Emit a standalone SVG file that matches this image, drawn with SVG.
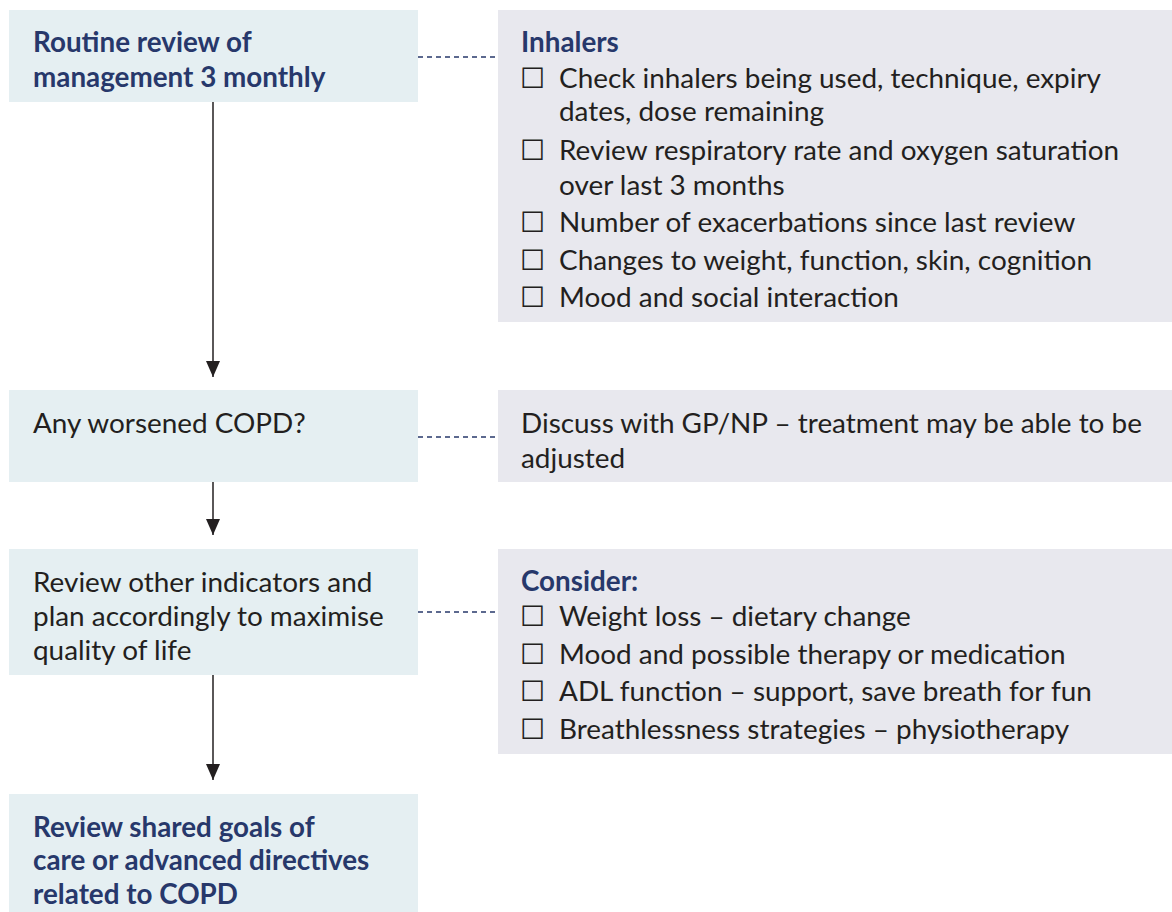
<svg xmlns="http://www.w3.org/2000/svg" width="1172" height="912" viewBox="0 0 1172 912">
<defs>
<style>
.lbox{fill:#e5eff2}
.rbox{fill:#e8e8ee}
.t{font-family:Lato,"Liberation Sans",sans-serif;font-size:27.9px;fill:#231f20}
.h{font-family:Lato,"Liberation Sans",sans-serif;font-size:27.8px;font-weight:bold;fill:#27386b}
.cb{font-family:"DejaVu Sans",sans-serif;font-size:28px;fill:#231f20}
.arrow{stroke:#231f20;stroke-width:1.5;fill:none;marker-end:url(#ah)}
.dash{stroke:#27386b;stroke-width:1.5;stroke-dasharray:5 4;fill:none}
</style>
<marker id="ah" viewBox="0 0 16 14" refX="16" refY="7" markerWidth="16" markerHeight="14" markerUnits="userSpaceOnUse" orient="auto">
<path d="M0,0 L16,7 L0,14 z" fill="#231f20"/>
</marker>
</defs>
<rect width="1172" height="912" fill="#ffffff"/>
<g id="connectors">
<line class="arrow" x1="213" y1="102" x2="213" y2="377"/>
<line class="arrow" x1="213" y1="482" x2="213" y2="535"/>
<line class="arrow" x1="213" y1="675" x2="213" y2="780"/>
<line class="dash" x1="418" y1="57" x2="498" y2="57"/>
<line class="dash" x1="418" y1="437" x2="498" y2="437"/>
<line class="dash" x1="418" y1="612" x2="498" y2="612"/>
</g>
<g id="n1">
<rect class="lbox" x="9" y="10" width="409" height="92"/>
<text class="h" x="33" y="52">Routine review of</text>
<text class="h" x="33" y="87">management 3 monthly</text>
</g>
<g id="n1r">
<rect class="rbox" x="498" y="10" width="674" height="312"/>
<text class="h" x="521" y="52">Inhalers</text>
<text class="cb" x="520" y="88">☐</text><text class="t" x="559" y="88">Check inhalers being used, technique, expiry</text>
<text class="t" x="559" y="121">dates, dose remaining</text>
<text class="cb" x="520" y="160">☐</text><text class="t" x="559" y="160">Review respiratory rate and oxygen saturation</text>
<text class="t" x="559" y="195">over last 3 months</text>
<text class="cb" x="520" y="232">☐</text><text class="t" x="559" y="232">Number of exacerbations since last review</text>
<text class="cb" x="520" y="270">☐</text><text class="t" x="559" y="270">Changes to weight, function, skin, cognition</text>
<text class="cb" x="520" y="307">☐</text><text class="t" x="559" y="307">Mood and social interaction</text>
</g>
<g id="n2">
<rect class="lbox" x="9" y="390" width="409" height="92"/>
<text class="t" x="33" y="433">Any worsened COPD?</text>
</g>
<g id="n2r">
<rect class="rbox" x="498" y="390" width="674" height="92"/>
<text class="t" x="521" y="433">Discuss with GP/NP – treatment may be able to be</text>
<text class="t" x="521" y="468">adjusted</text>
</g>
<g id="n3">
<rect class="lbox" x="9" y="549" width="409" height="126"/>
<text class="t" x="33" y="592">Review other indicators and</text>
<text class="t" x="33" y="626">plan accordingly to maximise</text>
<text class="t" x="33" y="660">quality of life</text>
</g>
<g id="n3r">
<rect class="rbox" x="498" y="549" width="674" height="205"/>
<text class="h" x="521" y="591">Consider:</text>
<text class="cb" x="520" y="626">☐</text><text class="t" x="559" y="626">Weight loss – dietary change</text>
<text class="cb" x="520" y="664">☐</text><text class="t" x="559" y="664">Mood and possible therapy or medication</text>
<text class="cb" x="520" y="701">☐</text><text class="t" x="559" y="701">ADL function – support, save breath for fun</text>
<text class="cb" x="520" y="739">☐</text><text class="t" x="559" y="739">Breathlessness strategies – physiotherapy</text>
</g>
<g id="n4">
<rect class="lbox" x="9" y="794" width="409" height="118"/>
<text class="h" x="33" y="837">Review shared goals of</text>
<text class="h" x="33" y="870">care or advanced directives</text>
<text class="h" x="33" y="904">related to COPD</text>
</g>
</svg>
